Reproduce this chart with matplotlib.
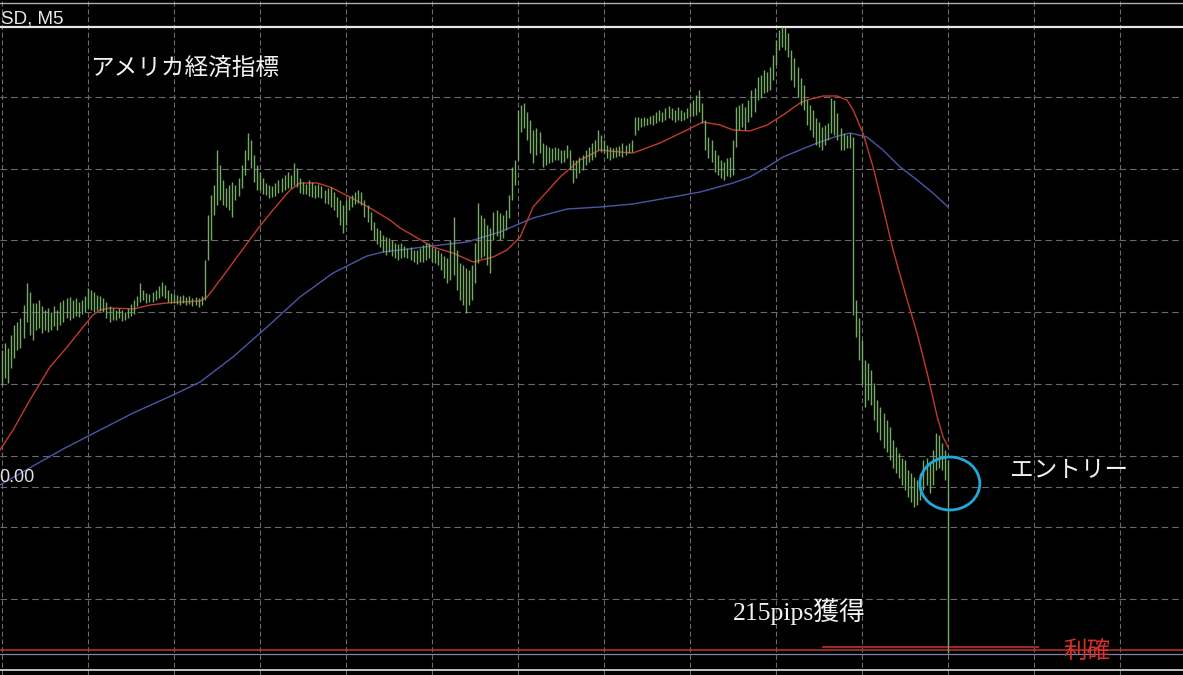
import matplotlib
matplotlib.use("Agg")
import matplotlib.pyplot as plt
from matplotlib.patches import Ellipse
import numpy as np

# ---------------- data (price in points above the take-profit level) ----------------
HIGH = [
    300, 307, 302, 315, 325, 328, 332, 345, 367, 358,
    347, 347, 350, 344, 340, 342, 338, 344, 340, 348,
    350, 352, 353, 350, 352, 348, 350, 354, 362, 360,
    358, 355, 354, 352, 348, 344, 342, 340, 342, 340,
    338, 342, 346, 350, 354, 367, 360, 357, 356, 358,
    360, 364, 368, 365, 360, 357, 356, 355, 354, 355,
    353, 354, 352, 353, 352, 354, 390, 435, 455, 465,
    500, 485, 470, 462, 465, 468, 465, 472, 485, 500,
    517, 510, 495, 485, 478, 472, 467, 465, 464, 467,
    470, 472, 475, 478, 475, 487, 482, 472, 468, 466,
    470, 468, 465, 466, 464, 460, 462, 463, 458, 453,
    450, 445, 450, 453, 455, 458, 460, 458, 450, 445,
    438, 428, 422, 420, 415, 413, 412, 410, 407, 406,
    407, 404, 402, 403, 400, 400, 402, 405, 407, 407,
    403, 402, 400, 397, 394, 392, 410, 433, 400, 387,
    385, 382, 380, 385, 407, 447, 435, 432, 425, 422,
    438, 440, 437, 435, 440, 455, 483, 490, 540, 545,
    547, 538, 530, 520, 522, 518, 507, 505, 503, 502,
    503, 502, 500, 500, 505, 500, 490, 490, 493, 495,
    500, 503, 507, 510, 520, 515, 510, 505, 503, 502,
    503, 504, 507, 505, 507, 510, 533, 533, 532, 533,
    532, 534, 535, 538, 540, 538, 542, 544, 542, 540,
    543, 540, 538, 542, 547, 550, 555, 560, 547, 530,
    513, 510, 500, 495, 490, 488, 492, 493, 510, 543,
    545, 547, 543, 550, 560, 562, 573, 575, 580, 578,
    583, 595, 610, 620, 623, 623, 617, 600, 592, 583,
    572, 565, 550, 545, 540, 532, 528, 523, 525, 527,
    552, 550, 537, 522, 517, 515, 517, 513, 350, 332,
    310, 290, 287, 280, 267, 250, 243, 237, 230, 223,
    210, 203, 197, 192, 190, 180, 177, 173, 170, 177,
    190, 192, 188, 200, 217, 215, 207, 200, 190,
]
LOW = [
    265, 272, 267, 282, 292, 300, 302, 312, 328, 315,
    310, 320, 322, 317, 320, 318, 320, 324, 320, 325,
    328, 332, 330, 332, 334, 333, 336, 338, 342, 340,
    338, 340, 339, 338, 332, 328, 330, 330, 332, 329,
    330, 332, 334, 336, 344, 348, 350, 347, 348, 348,
    350, 352, 354, 352, 348, 347, 347, 346, 345, 347,
    345, 346, 344, 345, 343, 345, 350, 390, 410, 435,
    445, 450, 445, 443, 440, 433, 450, 454, 462, 475,
    490, 482, 468, 460, 460, 456, 455, 452, 453, 454,
    457, 458, 460, 462, 462, 465, 463, 457, 456, 456,
    454, 453, 452, 453, 452, 447, 446, 443, 440, 433,
    425, 417, 425, 440, 443, 446, 447, 445, 433, 428,
    420, 410, 406, 403, 398, 395, 398, 394, 392, 390,
    392, 393, 392, 390, 388, 386, 388, 388, 390, 392,
    388, 387, 385, 380, 372, 367, 370, 375, 360, 350,
    345, 337, 345, 350, 367, 387, 392, 394, 385, 377,
    410, 414, 410, 412, 420, 432, 450, 465, 490, 518,
    522, 510, 497, 487, 495, 497, 483, 485, 487, 488,
    490, 490, 487, 488, 492, 480, 467, 472, 477, 480,
    485, 488, 490, 493, 500, 498, 497, 492, 490, 492,
    493, 494, 493, 495, 497, 498, 515, 520, 523, 524,
    525, 526, 525, 527, 529, 528, 530, 532, 530, 528,
    530, 529, 530, 532, 533, 534, 535, 538, 527, 500,
    492, 488, 478, 475, 472, 470, 474, 473, 475, 503,
    520, 523, 520, 528, 533, 538, 550, 552, 557, 558,
    560, 570, 585, 600, 603, 600, 593, 570, 563, 553,
    545, 540, 525, 520, 513, 505, 503, 500, 505, 510,
    517, 515, 510, 500, 500, 502, 502, 335, 313, 290,
    265, 243, 250, 245, 230, 218, 210, 202, 198, 190,
    182, 177, 172, 165, 160, 153, 148, 143, 145, 150,
    160, 165, 157, 165, 180, 182, 180, 170, -3,
]

# moving averages (bar index, value)
RED_IDX = [-0.65, 3.6, 9.1, 15.6, 21.2, 26.4, 29.6, 31.9, 35.2, 42.7, 48.2, 53.7, 58.0,
           64.5, 66.8, 71.0, 77.5, 83.0, 88.2, 93.8, 97.0, 102.6, 106.8, 113.3, 119.8,
           126.3, 129.6, 140.3, 146.8, 153.4, 159.9, 164.4, 168.7, 172.9, 181.7, 188.2,
           194.7, 201.2, 205.4, 214.2, 223.0, 228.2, 233.8, 238.0, 243.5, 249.1, 254.3,
           259.8, 262.1, 267.3, 271.9, 275.1, 277.1, 280.3, 283.6, 286.8, 290.1, 294.7,
           297.9, 301.2, 304.5, 306.4, 308.0]
RED_VAL = [200, 220, 250, 283, 303, 323, 335, 340, 342, 341, 345, 347, 348,
           349, 353, 370, 397, 420, 440, 460, 467, 467, 463, 453, 442,
           430, 422, 403, 397, 388, 393, 400, 413, 443, 473, 490,
           500, 498, 497, 507, 520, 528, 525, 520, 519, 525, 535,
           547, 550, 554, 554, 550, 540, 517, 483, 443, 400, 350,
           317, 277, 233, 213, 203]

BLUE_IDX = [-0.65, 10.1, 19.9, 31.9, 42.7, 55.7, 64.5, 75.2, 86.3, 97.0, 107.8, 118.8,
            124.0, 129.6, 140.0, 151.4, 162.1, 172.9, 184.0, 194.7, 205.4, 216.5, 227.3,
            238.0, 243.5, 249.1, 254.3, 259.8, 265.4, 271.0, 276.1, 281.6, 286.8, 292.4,
            297.9, 303.1, 308.0]
BLUE_VAL = [165, 184, 201, 220, 237, 255, 268, 293, 323, 353, 377, 394,
            398, 400, 404, 408, 418, 432, 441, 443, 446, 452, 458,
            467, 473, 483, 493, 500, 507, 513, 517, 513, 500, 483,
            470, 457, 443]

GRID_LEVELS = [51.1, 122.8, 194.5, 266.2, 338.0, 409.6, 481.3, 553.0]
GRID_STEP = 28
ENTRY_LEVEL = 163
TP_LEVEL = 0
TOP_LINE = 623

assert len(HIGH) == len(LOW)
idx = np.arange(len(HIGH))

# ---------------- figure ----------------
W, H = 1183, 675
fig = plt.figure(figsize=(W / 100, H / 100), dpi=100, facecolor="black")
ax = fig.add_axes([0, 0, 1, 1])
ax.set_facecolor("black")
ax.set_xlim(-0.651, 384.5)
ax.set_ylim(-25, 650)
ax.axis("off")

gridc = "#6a6a6a"
dash = (0, (6, 3.5))
for lv in GRID_LEVELS + [ENTRY_LEVEL]:
    ax.axhline(lv, color=gridc, lw=0.8, ls=dash, zorder=1)
for xv in range(0, 385, GRID_STEP):
    ax.axvline(xv, color=gridc, lw=0.8, ls=(0, (4.5, 2.5)), zorder=1)

# frame / object lines
ax.axhline(647.5, color="#b0b0b0", lw=1.0, zorder=2)
ax.axhline(TOP_LINE, color="#e6e6e6", lw=1.6, zorder=2)
ax.axhline(TP_LEVEL, color="#c03530", lw=1.1, zorder=2)
ax.axhline(-4, color="#7d86a8", lw=0.9, zorder=2)
ax.axhline(-20, color="#d0d0d0", lw=1.3, zorder=2)
ax.plot([267.0, 337.6], [3, 3], color="#9c2828", lw=1.5, zorder=3, solid_capstyle="butt")

# moving averages
ax.plot(BLUE_IDX, BLUE_VAL, color="#4b56a8", lw=1.0, zorder=3)
ax.plot(RED_IDX, RED_VAL, color="#c23a2e", lw=1.0, zorder=3)

# price bars
ax.vlines(idx, LOW, HIGH, colors="#72aa66", lw=1.0, zorder=4)

# entry circle
ax.add_patch(Ellipse((308.6, 166.5), 19.5, 53, fill=False, ec="#1fa8dc", lw=2.0, zorder=5))

# ---------------- text ----------------
def fx(px):
    return px / W

def fy(py):
    return 1 - py / H

fig.text(fx(1), fy(24), "SD, M5", color="#e8e8e8", fontsize=13.5,
         family="Liberation Sans", ha="left", va="baseline")
fig.text(fx(35), fy(478), "0.00", color="#e0e0e0", fontsize=13,
         family="Liberation Sans", ha="right", va="center")

jp = ["Noto Sans CJK JP", "DejaVu Sans"]
fig.text(fx(90), fy(68), "アメリカ経済指標", color="#f2f2f2", fontsize=17,
         family=jp, ha="left", va="center")
fig.text(fx(1010), fy(470), "エントリー", color="#f2f2f2", fontsize=17,
         family=jp, ha="left", va="center")
fig.text(fx(733), fy(612), "215pips獲得", color="#f2f2f2", fontsize=18.5,
         family=["Liberation Serif", "Noto Sans CJK JP"], ha="left", va="center")
fig.text(fx(1063), fy(651), "利確", color="#d8302a", fontsize=17,
         family=jp, ha="left", va="center")

fig.savefig("out.png", dpi=100, facecolor="black")
